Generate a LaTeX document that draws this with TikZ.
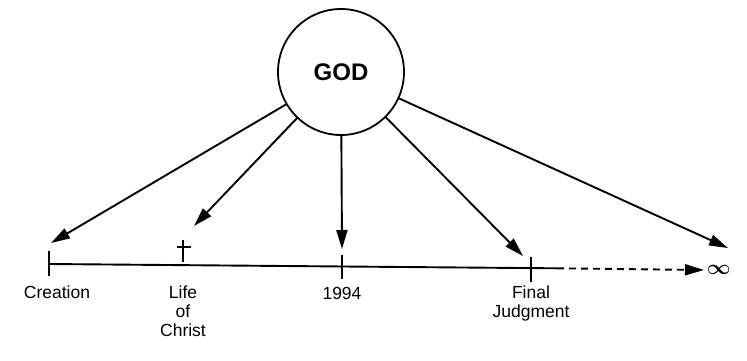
\documentclass[tikz,border=0pt]{standalone}
\usepackage{fontspec}
\setmainfont{Liberation Sans}
\usetikzlibrary{arrows.meta}
\begin{document}
\begin{tikzpicture}[x=1pt,y=-1pt,
  line width=1.9pt,
  arr/.style={-{Triangle[length=19pt,width=11pt]}},
  lbl/.style={font=\fontsize{17.5}{19}\selectfont, align=center, inner sep=0pt},
  tickmark/.style={line width=1.8pt}]
\useasboundingbox (0,0) rectangle (747,360);
\node[circle, draw, line width=1.8pt, minimum size=126pt, inner sep=0pt,
  font=\fontsize{24}{26}\selectfont\bfseries] (god) at (341,72) {GOD};
% timeline points
\coordinate (cr) at (49,264);
\coordinate (lc) at (183,264.7);
\coordinate (yr) at (342,266);
\coordinate (fj) at (531,268);
\coordinate (sd) at (557,268.3);
\coordinate (inf) at (704,270);
\draw (cr) -- (sd);
\draw[dashed, dash pattern=on 7pt off 5pt, arr] (sd) -- (inf);
\node[font=\fontsize{21}{21}\selectfont\boldmath, anchor=west, inner sep=1pt] (infty) at (705,270) {$\infty$};
% ticks
\draw[tickmark] (49,251) -- (49,276);
\draw[tickmark] (342,255) -- (342,279);
\draw[tickmark] (531,257) -- (531,282);
% cross
\draw[tickmark] (183,240) -- (183,262);
\draw[tickmark] (176.5,247) -- (191,247);
% arrow targets
\coordinate (a1) at (51,243);
\coordinate (a2) at (194,226);
\coordinate (a3) at (342,249);
\coordinate (a4) at (523,256);
\coordinate (a5) at (728,248);
\draw[arr] (god) -- (a1);
\draw[arr] (god) -- (a2);
\draw[arr] (god) -- (a3);
\draw[arr] (god) -- (a4);
\draw[arr] (god) -- (a5);
% labels
\node[lbl, anchor=north] (lcr) at (57,285) {Creation};
\node[lbl, anchor=north] (llc) at (183,285) {Life\\of\\Christ};
\node[lbl, anchor=north] (lyr) at (342,286) {1994};
\node[lbl, anchor=north] (lfj) at (531,285) {Final\\Judgment};
\end{tikzpicture}
\end{document}
